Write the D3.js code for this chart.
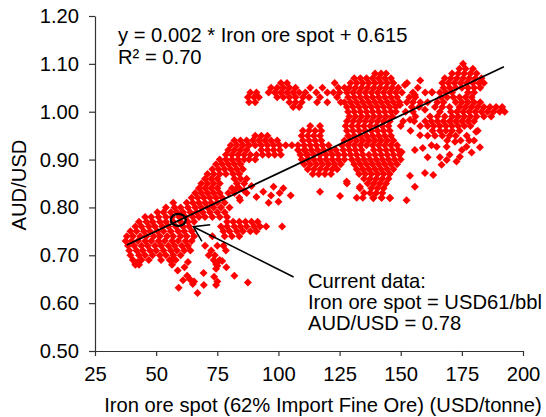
<!DOCTYPE html>
<html>
<head>
<meta charset="utf-8">
<script src="https://cdn.jsdelivr.net/npm/d3@7"></script>
<style>
  body { margin: 0; background: #fff; }
  svg { display: block; font-family: "Liberation Sans", Arial, sans-serif; }
</style>
</head>
<body>
<svg width="546" height="417"></svg>
<script>
var width = 546;
var height = 417;

// tick values
var xTicks = [25, 50, 75, 100, 125, 150, 175, 200];
var yTicks = [0.5, 0.6, 0.7, 0.8, 0.9, 1.0, 1.1, 1.2];

// rows of the cloud: [AUD/USD, [iron ore spot, ...]]
var lowerLeftRows = [
  [0.81, [57, 62.5]],
  [0.80, [54, 57.5, 60, 63, 66]],
  [0.79, [50.5, 53, 56, 58.5, 61, 64, 66.5]],
  [0.78, [45.5, 48, 51, 54, 56.5, 59.5, 62, 65, 67.5]],
  [0.77, [43, 46, 48.5, 51.5, 54, 57, 60, 63, 65.5]],
  [0.76, [41.5, 44, 47, 49.5, 52.5, 55, 58, 61, 63.5]],
  [0.75, [39.5, 42, 45, 47.5, 50.5, 53, 56, 59, 61.5, 64.5]],
  [0.74, [38, 40.5, 43.5, 46, 49, 51.5, 54.5, 57, 60, 62.5, 65.5]],
  [0.73, [37.5, 40, 42.5, 45.5, 48, 51, 53.5, 56.5, 59, 62, 64.5]],
  [0.72, [38.5, 41, 44, 46.5, 49.5, 52, 55, 57.5, 60.5, 63]],
  [0.71, [39, 42, 44.5, 47.5, 50, 53, 56, 58.5, 61.5, 64]],
  [0.70, [39.5, 43, 45.5, 48.5, 51.5, 54, 57, 60]],
  [0.69, [40.5, 44, 47, 52, 55.5, 58]],
  [0.68, [41.5, 43, 56.5]]
];

var risingBandRows = [
  [0.90, [76, 78.5, 81, 83.5, 86, 88, 90.5]],
  [0.89, [74.5, 77, 79.5, 82, 84.5]],
  [0.88, [73, 75.5, 78, 80.5, 83, 85.5]],
  [0.87, [71, 73.5, 76, 78.5, 81.5, 84]],
  [0.86, [70, 72.5, 75, 82, 84.5, 87]],
  [0.85, [68.5, 71, 73.5, 76, 83, 86]],
  [0.84, [67.5, 70, 72.5, 75, 81, 84]],
  [0.83, [66, 68.5, 71, 73.5, 76, 79.5, 82]],
  [0.82, [64.5, 67, 69.5, 72, 74.5, 77, 84]],
  [0.81, [65, 67.5, 70, 72.5, 75, 78]],
  [0.80, [68.5, 71, 73.5, 76.5, 80]],
  [0.79, [69, 72, 75, 78]],
  [0.78, [70, 73, 76, 79]]
];

var lowerArmRows = [
  [0.77, [79, 81.5, 84, 86.5, 89, 91.5]],
  [0.76, [76.5, 79, 82, 84.5, 87, 90, 92.5, 95, 101.5]],
  [0.75, [77.5, 80, 83, 85.5, 88.5, 91]],
  [0.74, [73, 78, 81, 84]],
  [0.72, [70, 75, 77.5]],
  [0.71, [72.5, 78.5]],
  [0.70, [71.5, 74]],
  [0.69, [73.5, 76]]
];

var middleArmRows = [
  [0.95, [90.5, 93, 95.5]],
  [0.94, [82, 84.5, 87, 89.5, 92, 94.5, 97, 99.5]],
  [0.93, [80.5, 83, 85.5, 88, 90.5, 93, 95.5, 98, 100.5, 103, 105.5, 108]],
  [0.92, [79.5, 82, 84.5, 87, 93, 95.5, 98, 100.5, 108, 110.5]],
  [0.91, [78.5, 81, 83.5, 86, 88.5, 91, 93.5, 96, 98.5, 101, 109, 111.5]]
];

var midClusterRows = [
  [0.96, [110, 112.5, 115, 117.5, 128, 130.5, 133, 135.5, 138, 140.5, 143, 145.5]],
  [0.95, [109.5, 112, 114.5, 117, 128.5, 131, 133.5, 136, 138.5, 141, 143.5, 146]],
  [0.94, [110, 112.5, 115, 117.5, 127, 129.5, 132, 134.5, 137, 139.5, 142, 144.5, 147]],
  [0.93, [110.5, 113, 115.5, 118, 120.5, 126, 128.5, 131, 133.5, 136, 138.5, 141, 143.5, 146, 148.5]],
  [0.92, [111, 113.5, 116, 118.5, 121, 123.5, 126.5, 129, 131.5, 134, 139, 141.5, 144, 146.5, 149]],
  [0.91, [112, 114.5, 117, 119.5, 122, 124.5, 127, 129.5, 132, 134.5, 137, 139.5, 142, 144.5, 147, 149.5]],
  [0.90, [109.5, 112, 114.5, 117, 119.5, 122, 124.5, 127, 130, 132.5, 135, 137.5, 140, 142.5, 145, 147.5, 150]],
  [0.89, [110.5, 113, 115.5, 118, 120.5, 123, 125.5, 131, 133.5, 136, 138.5, 141, 143.5, 146, 148.5]],
  [0.88, [112, 114.5, 117, 119.5, 122, 124, 132, 134.5, 137, 139.5, 142, 144.5, 147]],
  [0.87, [114, 116.5, 119, 121.5, 133, 135.5, 138, 140.5, 143, 145.5]],
  [0.86, [135, 137.5, 140, 142.5, 145]],
  [0.85, [128, 136.5, 139, 141.5, 144]],
  [0.84, [133.3, 138, 140.5, 143]],
  [0.83, [135, 137.5, 140, 142.5]],
  [0.82, [132, 134.5, 138.8, 142.2, 145.6]]
];

var upperArmRows = [
  [1.06, [101, 103.5, 123]],
  [1.05, [97, 99.5, 102, 104.5, 107, 113, 118, 124.5, 127]],
  [1.04, [88.5, 91, 96, 98.5, 101, 103.5, 106, 108.5, 111, 115.5, 120, 122.5, 125]],
  [1.03, [87.5, 90, 92, 99.5, 102, 104.5, 107, 110, 112.5, 117, 124]],
  [1.02, [88, 90.5, 104.5, 107, 109.5, 115.8, 120, 125.5]],
  [1.01, [106, 108.5]]
];

var centralRows = [
  [1.08, [139.5, 142, 144]],
  [1.07, [131, 133.5, 136, 138.5, 141, 143.5, 146]],
  [1.06, [129.5, 132, 134.5, 137, 139.5, 142, 144.5, 147, 152.6]],
  [1.05, [129, 131.5, 134, 136.5, 139, 141.5, 144, 146.5, 149, 157]],
  [1.04, [128, 130.5, 133, 135.5, 138, 140.5, 143, 145.5, 148, 150.5, 155, 160, 162.8]],
  [1.03, [128.5, 131, 133.5, 136, 138.5, 141, 143.5, 146, 148.5, 153.5, 156]],
  [1.02, [127, 129.5, 132, 134.5, 137, 139.5, 142, 144.5, 147, 149.5, 152.5, 155, 158]],
  [1.01, [128, 130.5, 133, 135.5, 138, 140.5, 143, 145.5, 148, 154.5, 157.5]],
  [1.00, [128.5, 131, 133.5, 136, 138.5, 141, 143.5, 146, 148, 152, 155]],
  [0.99, [129, 131.5, 134, 136.5, 139, 141.5, 144, 146.5, 156]],
  [0.98, [128, 130.5, 133, 135.5, 138, 140.5, 143, 145.5, 151, 155.5]],
  [0.97, [113, 117, 127.5, 130, 132.5, 135, 137.5, 140, 142.5, 145, 150]]
];

var topRightRows = [
  [1.10, [175.5]],
  [1.09, [174, 176.5, 179.5]],
  [1.08, [171, 173.5, 176, 178.5, 181]],
  [1.07, [168, 170.5, 173, 175.5, 178, 180.5, 183]],
  [1.06, [167, 169.5, 172, 174.5, 177, 179.5, 182, 184]],
  [1.05, [167.5, 170, 172.5, 175, 177.5, 180, 182.5]],
  [1.04, [166, 168.5, 171, 177.5, 180]],
  [1.03, [166.5, 169, 171.5, 174, 176.5, 179]],
  [1.02, [165, 167.5, 172.5, 175, 177.5, 180, 182.5]],
  [1.01, [164, 167, 170, 174, 176.5, 179, 181.5, 184, 186.5, 189, 191.5]],
  [1.00, [166, 170.5, 173, 175.5, 178, 180.5, 183, 185.5, 188, 190.5, 192.5]],
  [0.99, [162, 165, 168, 171, 173.5, 176, 178.5, 181, 184, 187]],
  [0.98, [160, 162.5, 165, 167.5, 170, 172.5, 175, 177.5, 180]],
  [0.97, [158, 161, 163.5, 166, 168.5, 171, 173.5, 176, 178.5]],
  [0.96, [163, 166, 168.5, 171, 174, 181.5]],
  [0.95, [161, 164, 167, 170, 172.5, 177]],
  [0.94, [169, 174.5, 178, 180]]
];

// single points: [iron ore spot, AUD/USD]
var rightScatter = [
  [159, 0.924], [162.6, 0.93], [164.7, 0.927], [168.8, 0.927], [172.2, 0.937],
  [176.9, 0.927], [182.4, 0.926], [150.4, 0.916], [155.8, 0.92], [153.8, 0.866],
  [155.8, 0.843], [163.3, 0.868], [159.9, 0.872], [166.7, 0.889], [168.8, 0.899],
  [172.8, 0.896], [174.2, 0.906], [180.8, 0.958], [117, 0.833], [125.2, 0.824],
  [127.9, 0.854], [133.3, 0.843], [138.8, 0.819], [142.2, 0.82], [145.6, 0.819],
  [152.4, 0.815], [179, 0.915], [170, 0.91], [166, 0.905], [161, 0.905], [175, 0.92]
];

var gapScatter = [
  [151.7, 1.056], [155.8, 1.035], [153.8, 0.983], [159.9, 1.004], [162.8, 1.041],
  [157.9, 0.951], [149.7, 1.014], [158, 1.065], [161, 1.02], [154, 0.96]
];

var belowArmScatter = [
  [83, 0.84], [86, 0.835], [87, 0.83], [91, 0.822], [93.8, 0.833], [98, 0.843],
  [102, 0.84], [84.3, 0.815], [96, 0.81], [100, 0.812], [97, 0.825], [100.5, 0.83],
  [105, 0.825], [89, 0.845]
];

var lowScatter = [
  [42.4, 0.686], [41.5, 0.684], [56.5, 0.69], [63, 0.686], [74.5, 0.682], [77, 0.688],
  [75.4, 0.687], [58.8, 0.668], [61.6, 0.675], [69.4, 0.663], [62.7, 0.657], [63.8, 0.65],
  [61, 0.648], [73.7, 0.655], [74.5, 0.672], [75, 0.678], [78.7, 0.675], [82, 0.657],
  [59.2, 0.632], [65, 0.64], [65.5, 0.645], [66.9, 0.621], [69.5, 0.638], [74.5, 0.638],
  [75, 0.645], [87.5, 0.643]
];

// regression: y = slope * iron + intercept, drawn over the data range
var fitSlope = 0.002416;
var fitIntercept = 0.6297;
var fitRange = [38, 192.2];

// current data marker and arrow tail
var current = [59.05, 0.774];
var arrowTail = [106.2, 0.6546];
var arrowTip = [65.2, 0.7597];

var equationLines = ["y = 0.002 * Iron ore spot + 0.615", "R\u00b2 = 0.70"];
var noteLines = ["Current data:", "Iron ore spot = USD61/bbl", "AUD/USD = 0.78"];

function fromRows(rows) {
  var out = [];
  rows.forEach(function(r) {
    r[1].forEach(function(v) { out.push([v, r[0]]); });
  });
  return out;
}

var points = [].concat(
  fromRows(lowerLeftRows), fromRows(risingBandRows), fromRows(lowerArmRows),
  fromRows(middleArmRows), fromRows(midClusterRows), fromRows(upperArmRows),
  fromRows(centralRows), fromRows(topRightRows),
  rightScatter, gapScatter, belowArmScatter, lowScatter
);

var xScale = d3.scaleLinear().domain([25, 200]).range([95, 523]);
var yScale = d3.scaleLinear().domain([0.5, 1.2]).range([351, 16]);

var svg = d3.select('svg');
var fontSize = "20.2px";

// points
var diamond = d3.symbol().type(d3.symbolSquare).size(32);
svg.append('g')
  .selectAll('path')
  .data(points)
  .enter()
  .append('path')
    .attr('d', diamond)
    .attr('transform', d => "translate(" + xScale(d[0]) + "," + yScale(d[1]) + ") rotate(45)")
    .attr('fill', '#ff0000');

// axes
var xAxis = d3.axisBottom(xScale)
  .tickValues(xTicks)
  .tickSize(5)
  .tickSizeOuter(0)
  .tickPadding(11)
  .tickFormat(d3.format('d'));

var yAxis = d3.axisLeft(yScale)
  .tickValues(yTicks)
  .tickSize(6)
  .tickSizeOuter(0)
  .tickPadding(10)
  .tickFormat(d3.format('.2f'));

var gx = svg.append('g')
  .attr('transform', "translate(0," + 351 + ")")
  .call(xAxis);

var gy = svg.append('g')
  .attr('transform', "translate(" + 95 + ",0)")
  .call(yAxis);

[gx, gy].forEach(function(g) {
  g.selectAll('path, line').attr('stroke', '#333').attr('stroke-width', 1.2);
  g.selectAll('text')
    .style('font-size', fontSize)
    .style('font-family', '"Liberation Sans", Arial, sans-serif')
    .attr('fill', '#000');
});

// regression line
svg.append('line')
  .attr('x1', xScale(fitRange[0]))
  .attr('y1', yScale(fitSlope * fitRange[0] + fitIntercept))
  .attr('x2', xScale(fitRange[1]))
  .attr('y2', yScale(fitSlope * fitRange[1] + fitIntercept))
  .attr('stroke', '#000')
  .attr('stroke-width', 1.8);

// current data circle
svg.append('ellipse')
  .attr('cx', xScale(current[0]))
  .attr('cy', yScale(current[1]))
  .attr('rx', 7.5)
  .attr('ry', 6)
  .attr('fill', 'none')
  .attr('stroke', '#000')
  .attr('stroke-width', 2.2);

// arrow
var tx = xScale(arrowTip[0]), ty = yScale(arrowTip[1]);
var sx = xScale(arrowTail[0]), sy = yScale(arrowTail[1]);
var ang = Math.atan2(sy - ty, sx - tx);
var headLen = 17, headAng = 33 * Math.PI / 180;
svg.append('line')
  .attr('x1', sx).attr('y1', sy)
  .attr('x2', tx).attr('y2', ty)
  .attr('stroke', '#000').attr('stroke-width', 1.5);
svg.append('path')
  .attr('d', "M" + (tx + headLen * Math.cos(ang - headAng)) + "," + (ty + headLen * Math.sin(ang - headAng)) +
             "L" + tx + "," + ty +
             "L" + (tx + headLen * Math.cos(ang + headAng)) + "," + (ty + headLen * Math.sin(ang + headAng)))
  .attr('fill', 'none')
  .attr('stroke', '#000')
  .attr('stroke-width', 1.5);

// equation text
svg.append('g').selectAll('text')
  .data(equationLines)
  .enter()
  .append('text')
    .attr('x', 118)
    .attr('y', (d, i) => 42 + i * 21.5)
    .style('font-size', fontSize)
    .attr('fill', '#000')
    .text(d => d);

// note text
svg.append('g').selectAll('text')
  .data(noteLines)
  .enter()
  .append('text')
    .attr('x', 308)
    .attr('y', (d, i) => 288 + i * 21)
    .style('font-size', fontSize)
    .attr('fill', '#000')
    .text(d => d);

// axis titles
svg.append('text')
  .attr('x', 323)
  .attr('y', 412)
  .style('text-anchor', 'middle')
  .style('font-size', fontSize)
  .attr('fill', '#000')
  .text("Iron ore spot (62% Import Fine Ore) (USD/tonne)");

svg.append('text')
  .attr('transform', "rotate(-90)")
  .attr('x', -185)
  .attr('y', 26)
  .style('text-anchor', 'middle')
  .style('font-size', fontSize)
  .attr('fill', '#000')
  .text("AUD/USD");
</script>
</body>
</html>
